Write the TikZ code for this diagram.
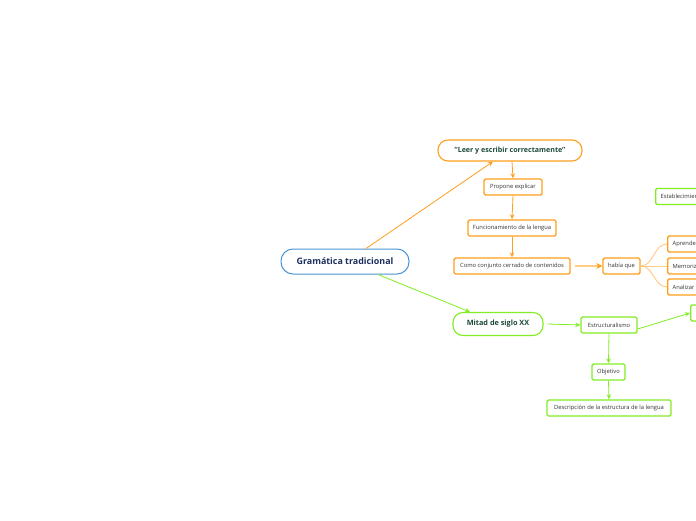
\documentclass[tikz,border=0pt]{standalone}
\usepackage{fontspec}
\setmainfont{Open Sans}
\usetikzlibrary{arrows.meta,calc}
\definecolor{borange}{HTML}{FF9F1C}
\definecolor{lorange}{HTML}{FFCB85}
\definecolor{bgreen}{HTML}{82EE22}
\definecolor{bblue}{HTML}{4A92D4}
\definecolor{navy}{HTML}{1D2F5E}
\definecolor{dgreen}{HTML}{1C4A3A}
\definecolor{tgray}{HTML}{333333}
\tikzset{
  mainnode/.style={draw=bblue,line width=1pt,rounded corners=12pt,minimum width=128pt,minimum height=25pt,inner sep=0pt,font=\fontsize{8.9}{10}\selectfont\bfseries,text=navy,fill=white},
  pillO/.style={draw=borange,line width=1.1pt,rounded corners=10pt,minimum width=144pt,minimum height=21pt,inner sep=0pt,font=\fontsize{7.1}{8}\selectfont\bfseries,text=dgreen,fill=white},
  pillG/.style={draw=bgreen,line width=1.1pt,rounded corners=10pt,minimum width=90pt,minimum height=23pt,inner sep=0pt,font=\fontsize{7.3}{8}\selectfont\bfseries,text=dgreen,fill=white},
  boxO/.style={draw=borange,line width=1.4pt,rounded corners=1.5pt,minimum height=16pt,inner sep=0pt,font=\fontsize{5.8}{6}\selectfont,text=tgray,fill=white},
  boxG/.style={draw=bgreen,line width=1.4pt,rounded corners=1.5pt,minimum height=16pt,inner sep=0pt,font=\fontsize{5.8}{6}\selectfont,text=tgray,fill=white},
  arrO/.style={draw=borange,line width=0.8pt,-{Stealth[length=5pt,width=4.5pt]}},
  arrG/.style={draw=bgreen,line width=0.8pt,-{Stealth[length=5pt,width=4.5pt]}},
  branch/.style={draw=lorange,line width=0.9pt},
}
\begin{document}
\begin{tikzpicture}[x=1pt,y=-1pt]
\useasboundingbox (0,0) rectangle (696,520);
\clip (0,0) rectangle (696,520);
\fill[white] (0,0) rectangle (696,520);
% nodes
\node[mainnode] (g) at (345,261.5) {Gramática tradicional};
\node[pillO] (leer) at (510,150.5) {"Leer y escribir correctamente"};
\node[boxO,minimum width=58pt] (prop) at (513,187) {Propone explicar};
\node[boxO,minimum width=88pt] (func) at (512,228) {Funcionamiento de la lengua};
\node[boxO,minimum width=116pt] (como) at (512,266) {Como conjunto cerrado de contenidos};
\node[boxO,minimum width=37pt] (hab) at (621.5,266) {había que};
\node[boxO,anchor=west,minimum width=60pt,text width=54pt,align=left] (apr) at (667,244) {\hspace*{2pt}Aprender};
\node[boxO,anchor=west,minimum width=60pt,text width=54pt,align=left] (mem) at (667,266) {\hspace*{2pt}Memorizar};
\node[boxO,anchor=west,minimum width=60pt,text width=54pt,align=left] (ana) at (667,287) {\hspace*{2pt}Analizar};
\node[boxG,anchor=west,minimum width=80pt,text width=74pt,align=left] (est) at (655,196.5) {\hspace*{2pt}Establecimiento};
\node[pillG] (mit) at (498,324) {Mitad de siglo XX};
\node[boxG,minimum width=56pt] (estr) at (609,325) {Estructuralismo};
\node[boxG,anchor=west,minimum width=40pt,text width=34pt,align=left] (inf) at (690,313) {\hspace*{2pt}Influencia};
\node[boxG,minimum width=33pt] (obj) at (608.5,372) {Objetivo};
\node[boxG,minimum width=124pt] (desc) at (609,408) {Descripción de la estructura de la lengua};
% connectors
\draw[arrO] ([xshift=21pt]g.north) -- ([xshift=-17pt]leer.south);
\draw[arrG] ([xshift=33pt]g.south) -- ([xshift=-28pt]mit.north);
\draw[arrO] ([xshift=2pt]leer.south) -- (prop.north);
\draw[arrO] (prop.south) -- (func.north);
\draw[arrO] (func.south) -- (como.north);
\draw[draw=lorange,line width=2pt,-{Stealth[length=6pt,width=6pt,color=borange]}] ([xshift=4pt]como.east) -- (hab.west);
\draw[branch] (hab.east) to[out=0,in=180] (apr.west);
\draw[branch] (hab.east) -- (mem.west);
\draw[branch] (hab.east) to[out=0,in=180] (ana.west);
\draw[arrG] ([xshift=4pt]mit.east) -- (estr.west);
\draw[arrG] ([yshift=-4pt]estr.east) -- (inf.west);
\draw[arrG] (estr.south) -- (obj.north);
\draw[arrG] (obj.south) -- (desc.north);
\end{tikzpicture}
\end{document}
